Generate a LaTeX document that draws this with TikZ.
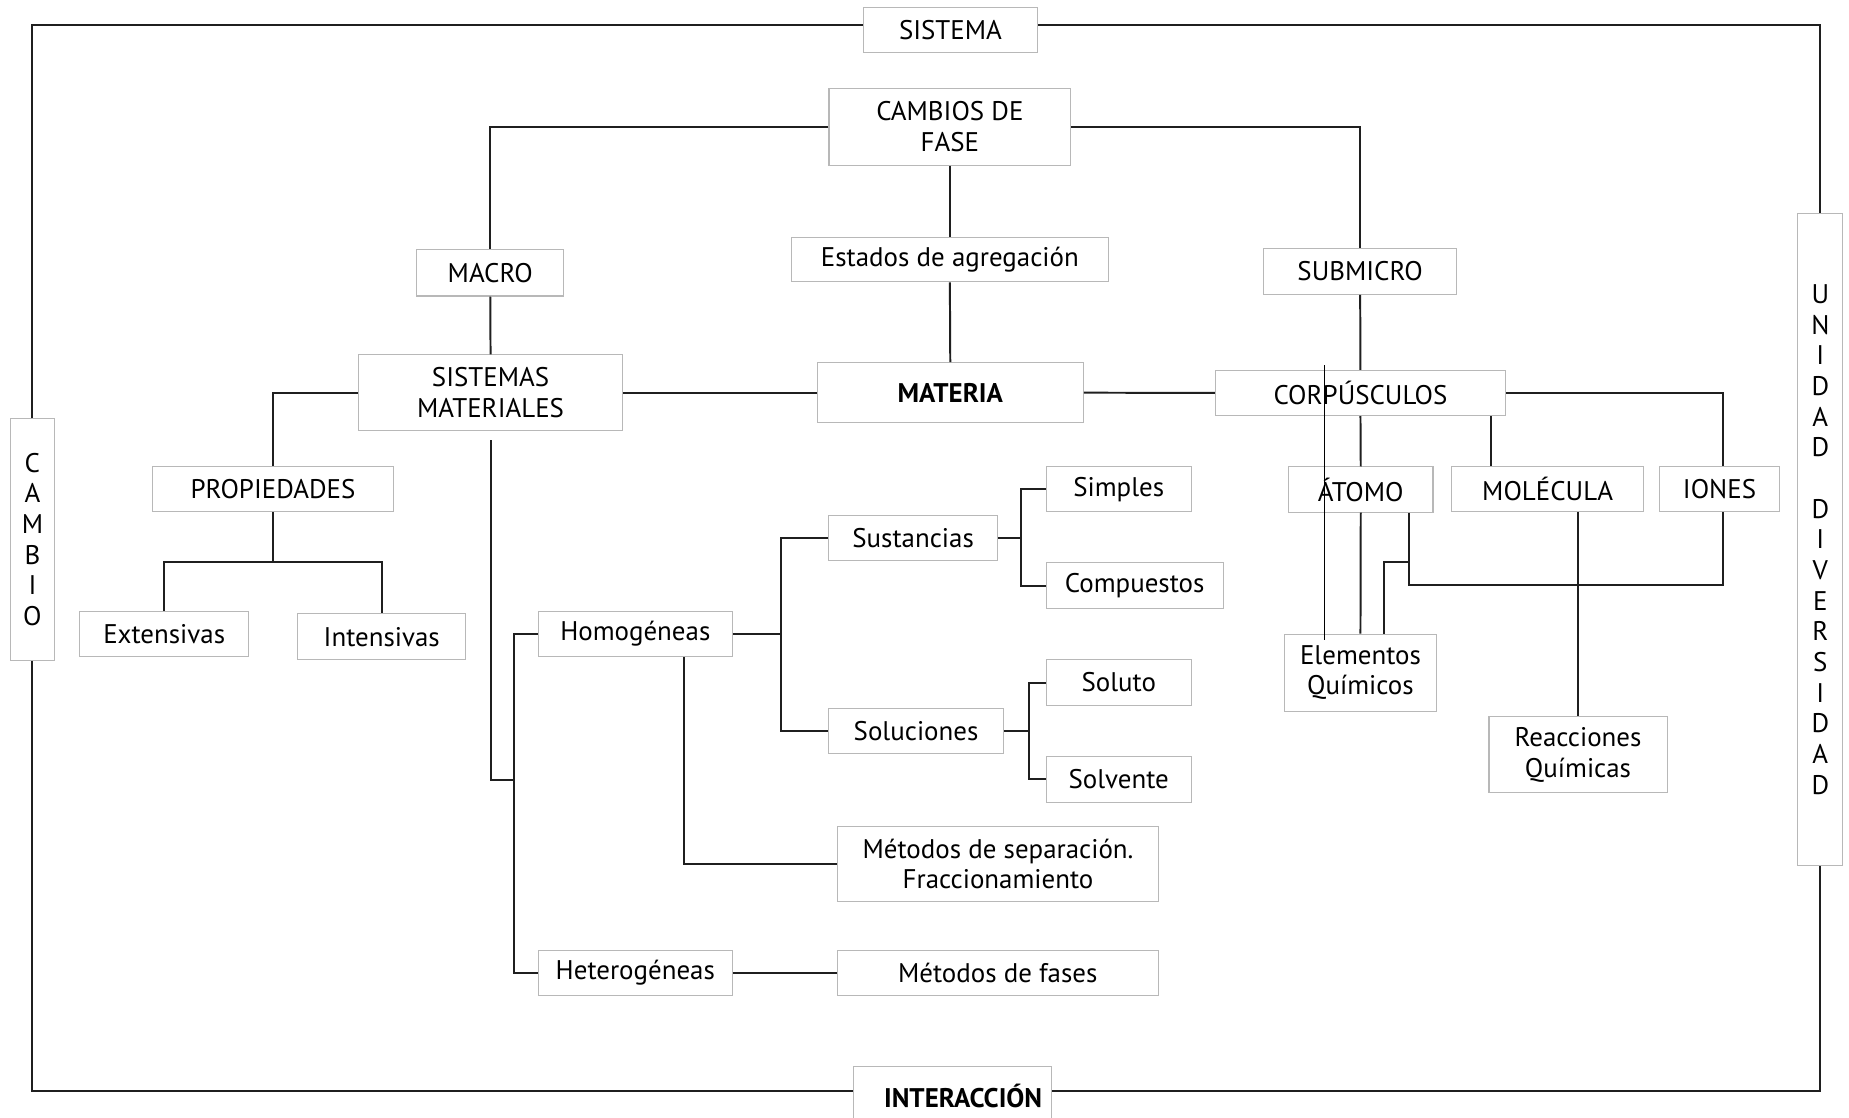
\documentclass[tikz,border=0pt]{standalone}
\usepackage{fontspec}
\setmainfont{PT Sans}
\tikzset{
  box/.style={draw=black!28, line width=0.5pt, fill=white, inner sep=0pt, align=center,
    font=\fontsize{13}{14.7}\selectfont},
  conn/.style={line width=0.95pt, draw=black!88},
  thinline/.style={line width=0.45pt, draw=black},
  vbox/.style={box, font=\fontsize{13}{14.8}\selectfont}
}
\newcommand\bx[7][]{\node[box,#1, minimum width={(#5-#3)*0.02cm}, minimum height={(#6-#4)*0.02cm}] (#2) at ({(#3+#5)/2},{(#4+#6)/2}) {#7};}
\begin{document}
\begin{tikzpicture}[x=0.02cm,y=-0.02cm]
\useasboundingbox[fill=white] (0,0) rectangle (1568,948);
% boxes
\bx{sistema}{732}{6}{880}{44.5}{SISTEMA}
\bx{cambios}{703}{75}{908}{140}{CAMBIOS DE\\FASE}
\bx{estados}{671}{201}{940}{239}{Estados de agregación}
\bx{macro}{353.5}{211.5}{478}{251}{MACRO}
\bx{submicro}{1071.7}{210.6}{1235.2}{249.7}{SUBMICRO}
\bx{sistemas}{304}{301}{528}{365}{SISTEMAS\\MATERIALES}
\bx{materia}{693}{307.5}{918.7}{358.5}{\bfseries MATERIA}
\bx{corp}{1030.7}{314}{1276.7}{352.4}{CORPÚSCULOS}
\bx{prop}{129}{396}{334}{434}{PROPIEDADES}
\bx{atomo}{1092.7}{396}{1215.2}{434.2}{ÁTOMO}
\bx{molec}{1231.2}{396}{1393.7}{434}{MOLÉCULA}
\bx{iones}{1407.2}{396}{1509.2}{434}{IONES}
\bx{simples}{887.2}{396}{1010.2}{434}{Simples}
\bx{sustancias}{702.5}{437}{846.2}{475}{Sustancias}
\bx{compuestos}{887.2}{477.2}{1037.2}{516}{Compuestos}
\bx{extensivas}{67.5}{518.5}{211}{557}{Extensivas}
\bx{intensivas}{252.5}{520.6}{395}{559.4}{Intensivas}
\bx{homog}{456.5}{518.5}{621}{557}{Homogéneas}
\bx{elementos}{1089.2}{537.8}{1218.2}{603}{Elementos\\Químicos}
\bx{soluto}{887.2}{559.4}{1010.2}{598.2}{Soluto}
\bx{soluciones}{702.5}{600.6}{851.2}{639}{Soluciones}
\bx{solvente}{887.2}{641.5}{1010.2}{680.3}{Solvente}
\bx{reacciones}{1262.7}{608}{1413.7}{672.4}{Reacciones\\Químicas}
\bx{metsep}{710.5}{700.6}{982.2}{764.8}{Métodos de separación.\\Fraccionamiento}
\bx{heterog}{456.5}{805.7}{621}{844.5}{Heterogéneas}
\bx{metfases}{710}{805.7}{982.2}{844.5}{Métodos de fases}
\bx{interaccion}{724}{904}{892}{955}{\hspace*{0.35cm}\bfseries INTERACCIÓN}
\bx[vbox]{cambio}{8.5}{355}{46.5}{560}{C\\A\\M\\B\\I\\O}
\bx[vbox]{unidad}{1524.7}{181}{1562.7}{734}{U\\N\\I\\D\\A\\D\\\mbox{}\\D\\I\\V\\E\\R\\S\\I\\D\\A\\D}
% coordinates
\coordinate (pj) at (231.5,476.3);
\coordinate (hj) at (436,661.2);
\coordinate (sj) at (662,537.75);
\coordinate (cj) at (866,456);
\coordinate (lj) at (872.7,619.8);
\coordinate (ij) at (1461,496.3);
\coordinate (aj) at (1194.7,476.3);
\coordinate (tA) at (1123.2,309.7);
\coordinate (tB) at (1123.2,542.4);
% frame
\draw[conn] (cambio.north) |- (sistema.west |- 0,21);
\draw[conn] (sistema.east |- 0,21) -| (unidad.north);
\draw[conn] (cambio.south) |- (interaccion.west |- 0,924.8);
\draw[conn] (interaccion.east |- 0,924.8) -| (unidad.south);
% top
\draw[conn] (cambios.west) -| (macro.north);
\draw[conn] (cambios.east) -| (submicro.north);
\draw[conn] (cambios.south) -- (estados.north);
\draw[conn] (estados.south) -- (materia.north);
\draw[conn] (macro.south) -- (sistemas.north);
\draw[conn] (sistemas.east) -- (materia.west);
\draw[conn] (materia.east) -- (corp.west);
\draw[conn] (submicro.south) -- (corp.north);
% propiedades
\draw[conn] (sistemas.west) -| (prop.north);
\draw[conn] (prop.south) -- (pj);
\draw[conn] (extensivas.north) |- (pj) -| (intensivas.north);
% sistemas materiales branch
\draw[conn] ([yshift=-0.16cm]sistemas.south) |- (hj);
\draw[conn] (homog.west) -| (hj) |- (heterog.west);
\draw[conn] (homog.east) -- (sj);
\draw[conn] (sustancias.west) -| (sj) |- (soluciones.west);
\draw[conn] (sustancias.east) -- (cj);
\draw[conn] (simples.west) -| (cj) |- (compuestos.west);
\draw[conn] (soluciones.east) -- (lj);
\draw[conn] (soluto.west) -| (lj) |- (solvente.west);
\draw[conn] (homog.south -| 580,0) |- (metsep.west);
\draw[conn] (heterog.east) -- (metfases.west);
% corpusculos
\draw[conn] (corp.east) -| (iones.north -| ij);
\draw[conn] (corp.south) -- (atomo.north);
\draw[conn] (corp.south -| 1264.2,0) -- (molec.north -| 1264.2,0);
\draw[conn] (atomo.south) -- (elementos.north);
\draw[conn] (atomo.south -| aj) |- (ij) -- (iones.south -| ij);
\draw[conn] (elementos.north -| 1173.7,0) |- (aj);
\draw[conn] (molec.south -| reacciones.north) -- (reacciones.north);
\draw[thinline] (tA) -- (tB);
\end{tikzpicture}
\end{document}
